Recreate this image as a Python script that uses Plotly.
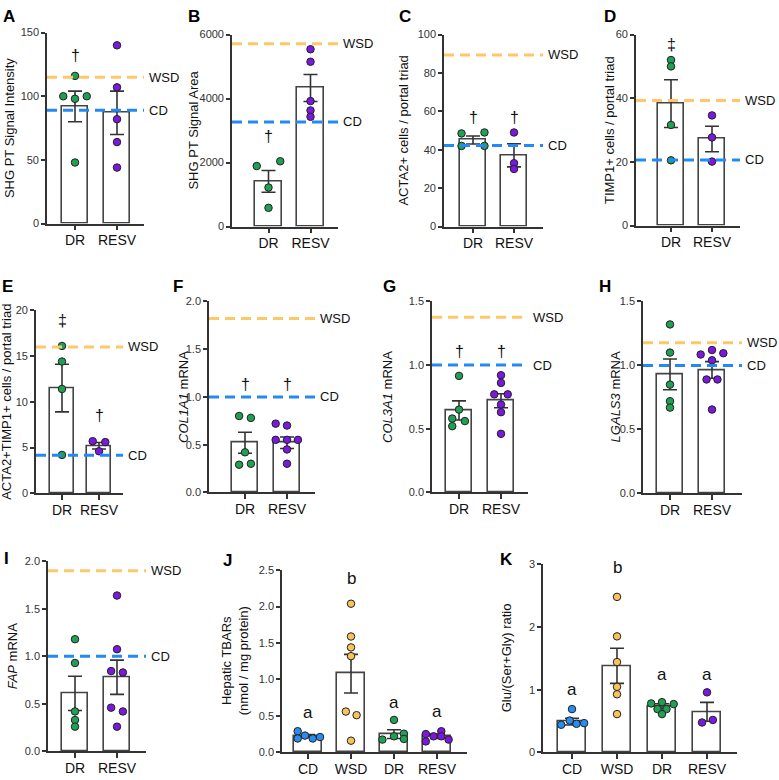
import plotly.graph_objects as go

W, H = 779, 780
FONT = "Liberation Sans, Arial, sans-serif"

GREEN = "#1FA055"
PURPLE = "#7A18E0"
BLUE = "#2A8CF2"
ORANGE = "#F8C35A"
LINE_BLUE = "#2389F5"
LINE_ORANGE = "#FFC766"
DARK = "#333333"

groups2 = ["DR", "RESV"]
groups4 = ["CD", "WSD", "DR", "RESV"]

# ---------------- data ----------------
a_dr = [116, 100, 98, 100, 48]
a_resv = [140, 107, 82, 64, 44]
a_mean = [92, 87]
a_sem = [12, 17]

b_dr = [2040, 1890, 1220, 585]
b_resv = [5540, 5150, 3920, 3630, 3430]
b_mean = [1410, 4330]
b_sem = [340, 420]

c_dr = [49, 48.5, 42, 42]
c_resv = [49, 33, 30]
c_mean = [45.1, 37.1]
c_sem = [2.1, 6.0]

d_dr = [52, 50, 31.6, 20.5]
d_resv = [34.6, 27.7, 20.1]
d_mean = [38.3, 27.2]
d_sem = [7.5, 4.0]

e_dr = [16.1, 14.4, 11.4, 4.2]
e_resv = [5.7, 5.6, 4.6]
e_mean = [11.5, 5.2]
e_sem = [2.6, 0.35]

f_dr = [0.80, 0.78, 0.42, 0.29, 0.30]
f_resv = [0.72, 0.70, 0.55, 0.55, 0.55, 0.45, 0.30]
f_mean = [0.52, 0.52]
f_sem = [0.11, 0.06]

g_dr = [0.915, 0.65, 0.58, 0.56, 0.52]
g_resv = [0.92, 0.86, 0.77, 0.77, 0.69, 0.63, 0.46]
g_mean = [0.644, 0.72]
g_sem = [0.075, 0.055]

h_dr = [1.32, 1.10, 0.85, 0.72, 0.67]
h_resv = [1.085, 1.12, 1.095, 1.04, 0.89, 0.89, 0.655]
h_mean = [0.93, 0.964]
h_sem = [0.12, 0.065]

i_dr = [1.18, 0.93, 0.42, 0.33, 0.26]
i_resv = [1.64, 1.075, 0.845, 0.83, 0.46, 0.42, 0.26]
i_mean = [0.61, 0.78]
i_sem = [0.18, 0.18]

j_cd = [0.29, 0.19, 0.23, 0.19, 0.21]
j_wsd = [2.04, 1.59, 1.44, 1.32, 0.56, 0.51, 0.16]
j_dr = [0.175, 0.445, 0.22, 0.256, 0.184]
j_resv = [0.25, 0.15, 0.22, 0.29, 0.22, 0.175]
j_mean = [0.224, 1.08, 0.25, 0.22]
j_sem = [0.02, 0.265, 0.06, 0.03]

k_cd = [0.69, 0.44, 0.507, 0.455, 0.466]
k_wsd = [2.48, 1.85, 1.44, 1.045, 0.926, 0.61]
k_dr = [0.78, 0.80, 0.77, 0.69, 0.69, 0.61]
k_resv = [0.957, 0.476, 0.517]
k_mean = [0.49, 1.38, 0.735, 0.647]
k_sem = [0.055, 0.28, 0.04, 0.15]

# reference lines (CD, WSD)
ref_cd = {"A": 89, "B": 3270, "C": 42.2, "D": 20.6, "E": 4.16, "F": 1.0, "G": 1.0, "H": 1.0, "I": 1.0}
ref_wsd = {"A": 115, "B": 5710, "C": 89.4, "D": 39.3, "E": 16.0, "F": 1.82, "G": 1.375, "H": 1.177, "I": 1.90}

# ---------------- styling / layout (horizontal jitter offsets in category units) ----------------
jit = {
    "A": [[0, -0.28, 0, 0.28, 0], [0, 0, 0, 0, 0]],
    "B": [[0.28, -0.28, 0, 0], [0, 0, 0, 0, 0]],
    "C": [[0.28, -0.28, -0.28, 0.28], [0, 0, 0]],
    "D": [[0, 0, 0, 0], [0, 0, 0]],
    "E": [[0, 0, 0, 0], [-0.17, 0.17, 0]],
    "F": [[-0.14, 0.14, 0, -0.14, 0.14], [-0.27, 0, -0.27, 0, 0.26, 0, 0]],
    "G": [[0, 0, -0.16, 0.14, -0.16], [0, 0, -0.16, 0.16, 0, 0, 0]],
    "H": [[0, 0, 0, 0, 0], [-0.27, 0, 0.27, 0, -0.13, 0.13, 0]],
    "I": [[0, 0, 0, 0, 0], [0, 0, -0.14, 0.14, -0.14, 0.14, 0]],
    "J": [[-0.24, -0.24, -0.07, 0.11, 0.28], [0, 0, 0, 0, -0.12, 0.13, 0],
          [-0.27, 0, 0, 0.23, 0.23], [-0.26, -0.26, -0.08, 0.1, 0.1, 0.27]],
    "K": [[0, -0.24, -0.05, 0.1, 0.27], [0, 0, 0, 0, 0, 0],
          [-0.24, 0, 0.26, -0.1, 0.1, 0], [0, -0.11, 0.13]],
}

panels = [
    # key, ytitle, cats, groups data, means, sems, ymax, dtick, tickformat, px box (x0,x1,ytop,ybottom), first-cat px, px per cat, colors
    ("A", "SHG PT Signal Intensity", groups2, [a_dr, a_resv], a_mean, a_sem, 150, 50, None,
     (47, 144, 27, 221), 75, 42, [GREEN, PURPLE]),
    ("B", "SHG PT Signal Area", groups2, [b_dr, b_resv], b_mean, b_sem, 6000, 2000, None,
     (232, 338, 29, 224), 268.5, 42, [GREEN, PURPLE]),
    ("C", "ACTA2+ cells / portal triad", groups2, [c_dr, c_resv], c_mean, c_sem, 100, 20, None,
     (444, 543, 29, 224), 473, 41, [GREEN, PURPLE]),
    ("D", "TIMP1+ cells / portal triad", groups2, [d_dr, d_resv], d_mean, d_sem, 60, 20, None,
     (636, 740, 29, 223), 671, 41, [GREEN, PURPLE]),
    ("E", "ACTA2+TIMP1+ cells / portal triad", groups2, [e_dr, e_resv], e_mean, e_sem, 20, 5, None,
     (36, 123, 309, 495), 62, 37, [GREEN, PURPLE]),
    ("F", "<i>COL1A1</i> mRNA", groups2, [f_dr, f_resv], f_mean, f_sem, 2.0, 0.5, ".1f",
     (209, 315, 300, 494), 245, 42, [GREEN, PURPLE]),
    ("G", "<i>COL3A1</i> mRNA", groups2, [g_dr, g_resv], g_mean, g_sem, 1.5, 0.5, ".1f",
     (432, 528, 300, 494), 459, 42, [GREEN, PURPLE]),
    ("H", "<i>LGALS3</i> mRNA", groups2, [h_dr, h_resv], h_mean, h_sem, 1.5, 0.5, ".1f",
     (643, 742, 300, 495), 670, 42, [GREEN, PURPLE]),
    ("I", "<i>FAP</i> mRNA", groups2, [i_dr, i_resv], i_mean, i_sem, 2.0, 0.5, ".1f",
     (48, 146, 564, 757), 75, 42, [GREEN, PURPLE]),
    ("J", "Hepatic TBARs<br>(nmol / mg protein)", groups4, [j_cd, j_wsd, j_dr, j_resv], j_mean, j_sem,
     2.5, 0.5, ".1f", (282, 467, 573, 758), 308, 43, [BLUE, ORANGE, GREEN, PURPLE]),
    ("K", "Glu/(Ser+Gly) ratio", groups4, [k_cd, k_wsd, k_dr, k_resv], k_mean, k_sem,
     3, 1, None, (543, 737, 567, 758), 572, 45, [BLUE, ORANGE, GREEN, PURPLE]),
]

# significance marks: (panel, category index, y, text)
marks = [
    ("A", 0, 132, "†"), ("A", 1, 157, "†"),
    ("B", 0, 2800, "†"),
    ("C", 0, 57, "†"), ("C", 1, 57, "†"),
    ("D", 0, 57, "‡"),
    ("E", 0, 18.9, "‡"), ("E", 1, 8.5, "†"),
    ("F", 0, 1.13, "†"), ("F", 1, 1.13, "†"),
    ("G", 0, 1.11, "†"), ("G", 1, 1.11, "†"),
    ("J", 0, 0.55, "a"), ("J", 1, 2.39, "b"), ("J", 2, 0.68, "a"), ("J", 3, 0.56, "a"),
    ("K", 0, 1.0, "a"), ("K", 1, 2.95, "b"), ("K", 2, 1.24, "a"), ("K", 3, 1.24, "a"),
]

# panel letter positions (px, top-left)
letters = {"A": (1, -1), "B": (186, -1), "C": (397, -1), "D": (602, -1),
           "E": (0, 273), "F": (171, 273), "G": (381, 273), "H": (597, 273),
           "I": (2, 549), "J": (221, 551), "K": (498, 550)}
# y-title center x (px)
ytitle_x = {"A": 9, "B": 194, "C": 404, "D": 609, "E": 7, "F": 184, "G": 388, "H": 615,
            "I": 12, "J": 235, "K": 506}


def px_x(v):
    return v / W


def px_y(v):
    return 1 - v / H


fig = go.Figure()
layout = {}
annotations = []
shapes = []

for idx, (key, ytitle, cats, data, means, sems, ymax, dtick, tfmt, box, c0, unit, cols) in enumerate(panels):
    n = idx + 1
    xa = "xaxis" if n == 1 else f"xaxis{n}"
    ya = "yaxis" if n == 1 else f"yaxis{n}"
    xr = "x" if n == 1 else f"x{n}"
    yr = "y" if n == 1 else f"y{n}"
    x0, x1, yt, yb = box
    xmin = (x0 - c0) / unit
    xmax = (x1 - c0) / unit
    pos = list(range(len(cats)))

    fig.add_trace(go.Bar(
        x=pos, y=means, width=0.63, xaxis=xr, yaxis=yr,
        marker=dict(color="white", line=dict(color="#444444", width=1.6)),
        error_y=dict(type="data", array=sems, visible=True, color=DARK, thickness=1.6, width=7),
        showlegend=False, hoverinfo="skip",
    ))
    for gi, vals in enumerate(data):
        offs = jit[key][gi]
        fig.add_trace(go.Scatter(
            x=[gi + o for o in offs], y=vals, mode="markers", xaxis=xr, yaxis=yr,
            marker=dict(color=cols[gi], size=7.5, line=dict(color="#222222", width=1)),
            showlegend=False, hoverinfo="skip", cliponaxis=False,
        ))

    layout[xa] = dict(
        domain=[px_x(x0), px_x(x1)], range=[xmin, xmax], anchor=yr,
        tickvals=pos, ticktext=cats, showline=True, linecolor=DARK, linewidth=1.6,
        ticks="outside", ticklen=5, tickwidth=1.6, tickcolor=DARK, ticklabelstandoff=-2,
        tickfont=dict(family=FONT, size=14, color="#111111"), showgrid=False, zeroline=False,
        fixedrange=True,
    )
    layout[ya] = dict(
        domain=[px_y(yb), px_y(yt)], range=[0, ymax], anchor=xr,
        dtick=dtick, tick0=0, tickformat=tfmt, showline=True, linecolor=DARK, linewidth=1.6,
        ticks="outside", ticklen=4, tickwidth=1.6, tickcolor=DARK,
        tickfont=dict(family=FONT, size=11, color="#333333"), showgrid=False, zeroline=False,
        fixedrange=True,
    )

    # reference lines
    if key in ref_cd:
        for val, col, lab in ((ref_wsd[key], LINE_ORANGE, "WSD"), (ref_cd[key], LINE_BLUE, "CD")):
            shapes.append(dict(type="line", xref=f"{xr} domain", yref=yr, x0=0, x1=1, y0=val, y1=val,
                               line=dict(color=col, width=3, dash="10px,6px"), layer="above"))
            annotations.append(dict(xref="paper", yref=yr, x=px_x(x1 + 3), y=val, text=lab,
                                    xanchor="left", yanchor="middle", showarrow=False,
                                    font=dict(family=FONT, size=13, color="#111111")))

    # y title
    annotations.append(dict(xref="paper", yref="paper", x=px_x(ytitle_x[key]), y=px_y((yt + yb) / 2),
                            text=ytitle, textangle=-90, showarrow=False, xanchor="center",
                            yanchor="middle", font=dict(family=FONT, size=13, color="#111111")))
    # panel letter
    lx, ly = letters[key]
    annotations.append(dict(xref="paper", yref="paper", x=px_x(lx), y=px_y(ly), text=f"<b>{key}</b>",
                            showarrow=False, xanchor="left", yanchor="top",
                            font=dict(family=FONT, size=17, color="#000000")))

panel_ref = {p[0]: (i + 1) for i, p in enumerate(panels)}
for key, ci, yv, txt in marks:
    n = panel_ref[key]
    xr = "x" if n == 1 else f"x{n}"
    yr = "y" if n == 1 else f"y{n}"
    annotations.append(dict(xref=xr, yref=yr, x=ci, y=yv, text=txt, showarrow=False,
                            xanchor="center", yanchor="middle",
                            font=dict(family=FONT, size=17 if txt in "ab" else 16, color="#111111")))

fig.update_layout(
    width=W, height=H, margin=dict(l=0, r=0, t=0, b=0),
    paper_bgcolor="white", plot_bgcolor="white",
    annotations=annotations, shapes=shapes, bargap=0, **layout,
)

fig.write_html(
    "out.html",
    config={"displayModeBar": False},
    post_script="document.body.style.margin='0';document.body.style.overflow='hidden';",
)
